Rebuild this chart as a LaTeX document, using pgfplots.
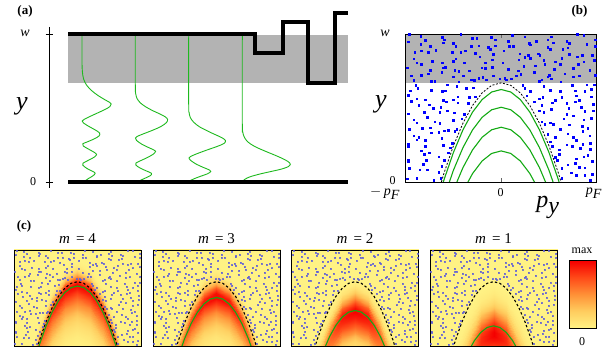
\documentclass[border=0pt]{standalone}
\usepackage{fontspec}
\setmainfont{Liberation Serif}
\usepackage{pgfplots}
\usepackage{pgfplotstable}
\pgfplotsset{compat=1.18}
\definecolor{bandgray}{RGB}{179,179,179}
\definecolor{wgreen}{RGB}{30,185,30}
\definecolor{lgreen}{RGB}{20,170,20}
\definecolor{dotblue}{RGB}{0,0,255}
\definecolor{cdot}{RGB}{95,95,215}
\newcommand\fs[1]{\fontsize{#1}{#1}\selectfont}
\pgfplotsset{colormap={heat}{rgb255(0cm)=(255,242,132); rgb255(1cm)=(255,205,95); rgb255(2cm)=(255,145,55); rgb255(3cm)=(255,75,25); rgb255(4cm)=(245,0,0)}}

% random-looking points outside the dashed parabola (x in -1..1, y in 0..1)
\pgfplotstableread{
x y
-0.985 0.022
-0.885 0.027
-0.705 0.012
-0.635 0.027
0.635 0.027
0.785 0.047
0.875 0.047
0.935 0.012
-0.965 0.092
-0.855 0.082
-0.775 0.082
-0.655 0.067
0.635 0.092
0.735 0.062
0.875 0.097
0.955 0.052
-0.975 0.142
-0.815 0.122
-0.785 0.147
-0.625 0.107
-0.595 0.147
0.585 0.147
0.695 0.117
0.775 0.127
0.815 0.102
0.955 0.142
-0.975 0.152
-0.805 0.187
-0.755 0.197
-0.655 0.172
-0.555 0.197
0.565 0.167
0.605 0.187
0.785 0.157
0.865 0.172
0.905 0.182
-0.975 0.242
-0.835 0.212
-0.795 0.242
-0.605 0.247
-0.535 0.232
0.535 0.242
0.605 0.217
0.745 0.242
0.825 0.227
0.935 0.222
-0.975 0.257
-0.885 0.287
-0.795 0.282
-0.625 0.297
-0.515 0.262
0.515 0.272
0.685 0.252
0.785 0.282
0.855 0.257
0.935 0.262
-0.915 0.312
-0.865 0.302
-0.735 0.332
-0.655 0.337
-0.595 0.347
-0.485 0.342
0.485 0.322
0.565 0.302
0.695 0.327
0.755 0.302
0.855 0.342
0.925 0.312
-0.965 0.357
-0.825 0.362
-0.745 0.367
-0.645 0.397
-0.555 0.352
-0.465 0.357
0.455 0.392
0.545 0.392
0.615 0.357
0.715 0.387
0.845 0.377
0.905 0.362
-0.915 0.422
-0.885 0.402
-0.775 0.437
-0.695 0.407
-0.505 0.417
-0.415 0.427
0.425 0.407
0.515 0.402
0.655 0.427
0.755 0.447
0.865 0.422
0.945 0.432
-0.975 0.462
-0.805 0.472
-0.715 0.497
-0.645 0.472
-0.565 0.482
-0.495 0.467
-0.385 0.457
0.395 0.482
0.445 0.472
0.525 0.492
0.685 0.457
0.705 0.497
0.875 0.477
0.965 0.482
-0.945 0.547
-0.865 0.517
-0.755 0.522
-0.635 0.507
-0.575 0.542
-0.455 0.537
-0.345 0.532
0.345 0.542
0.425 0.517
0.535 0.537
0.685 0.532
0.775 0.542
0.835 0.507
0.965 0.527
-0.975 0.587
-0.885 0.562
-0.795 0.557
-0.605 0.552
-0.505 0.557
-0.455 0.577
-0.335 0.572
-0.275 0.577
0.265 0.582
0.395 0.562
0.435 0.572
0.565 0.552
0.635 0.572
0.785 0.582
0.815 0.552
0.945 0.577
-0.955 0.617
-0.875 0.632
-0.735 0.622
-0.615 0.612
-0.585 0.617
-0.465 0.647
-0.365 0.632
-0.295 0.637
0.245 0.632
0.305 0.612
0.445 0.647
0.515 0.622
0.615 0.612
0.775 0.617
0.875 0.612
0.945 0.627
-0.915 0.687
-0.895 0.652
-0.735 0.682
-0.695 0.682
-0.565 0.657
-0.445 0.677
-0.315 0.692
-0.285 0.687
-0.155 0.692
-0.015 0.697
0.055 0.692
0.105 0.697
0.225 0.652
0.395 0.682
0.425 0.692
0.525 0.697
0.625 0.677
0.745 0.652
0.895 0.657
0.975 0.657
-0.945 0.717
-0.835 0.722
-0.765 0.732
-0.625 0.742
-0.505 0.712
-0.445 0.747
-0.395 0.717
-0.235 0.702
-0.195 0.707
-0.085 0.717
0.035 0.702
0.155 0.717
0.205 0.727
0.345 0.742
0.485 0.712
0.505 0.722
0.665 0.732
0.755 0.712
0.815 0.717
0.985 0.722
-0.985 0.772
-0.835 0.797
-0.745 0.757
-0.605 0.772
-0.585 0.777
-0.485 0.757
-0.335 0.752
-0.205 0.772
-0.165 0.767
-0.095 0.777
0.075 0.762
0.175 0.752
0.235 0.782
0.355 0.787
0.455 0.797
0.555 0.762
0.615 0.797
0.755 0.767
0.805 0.797
0.925 0.757
-0.915 0.832
-0.885 0.807
-0.725 0.817
-0.615 0.807
-0.505 0.817
-0.475 0.832
-0.385 0.807
-0.225 0.847
-0.165 0.807
-0.095 0.827
0.015 0.807
0.185 0.827
0.245 0.842
0.305 0.837
0.445 0.822
0.565 0.812
0.635 0.837
0.795 0.847
0.865 0.812
0.975 0.822
-0.905 0.877
-0.835 0.887
-0.765 0.877
-0.685 0.892
-0.515 0.877
-0.425 0.877
-0.375 0.887
-0.275 0.872
-0.115 0.897
-0.085 0.862
0.025 0.887
0.195 0.867
0.285 0.857
0.385 0.867
0.405 0.857
0.515 0.897
0.645 0.897
0.715 0.862
0.845 0.857
0.955 0.857
-0.975 0.947
-0.845 0.932
-0.745 0.917
-0.605 0.942
-0.505 0.937
-0.475 0.917
-0.315 0.917
-0.235 0.922
-0.135 0.912
-0.065 0.922
0.085 0.917
0.125 0.917
0.295 0.937
0.305 0.927
0.485 0.912
0.545 0.942
0.695 0.907
0.715 0.937
0.895 0.932
0.985 0.917
-0.965 0.997
-0.845 0.987
-0.795 0.957
-0.615 0.977
-0.595 0.962
-0.425 0.997
-0.305 0.972
-0.255 0.972
-0.105 0.977
-0.065 0.962
0.075 0.952
0.115 0.992
0.245 0.982
0.365 0.952
0.485 0.962
0.525 0.982
0.685 0.952
0.795 0.997
0.865 0.992
0.985 0.962
}\dotstab

\pgfplotstableread{
x y
-0.7 -0.163
-0.6 0.058
-0.5 0.245
-0.4 0.398
-0.3 0.517
-0.2 0.602
-0.1 0.653
0 0.67
0.1 0.653
0.2 0.602
0.3 0.517
0.4 0.398
0.5 0.245
0.6 0.058
0.7 -0.163
}\Pdash
\pgfplotstableread{
x y
-0.7 -0.208
-0.6 0.013
-0.5 0.2
-0.4 0.353
-0.3 0.472
-0.2 0.557
-0.1 0.608
0 0.625
0.1 0.608
0.2 0.557
0.3 0.472
0.4 0.353
0.5 0.2
0.6 0.013
0.7 -0.208
}\Pga
\pgfplotstableread{
x y
-0.6 -0.107
-0.5 0.08
-0.4 0.233
-0.3 0.352
-0.2 0.437
-0.1 0.488
0 0.505
0.1 0.488
0.2 0.437
0.3 0.352
0.4 0.233
0.5 0.08
0.6 -0.107
}\Pgb
\pgfplotstableread{
x y
-0.5 -0.055
-0.4 0.098
-0.3 0.217
-0.2 0.302
-0.1 0.353
0 0.37
0.1 0.353
0.2 0.302
0.3 0.217
0.4 0.098
0.5 -0.055
}\Pgc
\pgfplotstableread{
x y
-0.4 -0.062
-0.3 0.057
-0.2 0.142
-0.1 0.193
0 0.21
0.1 0.193
0.2 0.142
0.3 0.057
0.4 -0.062
}\Pgd

% intensity on a parabolic mesh: columns a,b,c,d = m=4,3,2,1
\pgfplotstableread{
x y a b c d
-1 -1.7 0 0 0 0
-0.8 -1.088 0 0 0 0
-0.6 -0.612 0 0 0 0
-0.4 -0.272 0.02 0.04 0.10 0.36
-0.2 -0.068 0.02 0.05 0.14 0.68
0 0 0.02 0.05 0.15 0.80
0.2 -0.068 0.02 0.05 0.14 0.68
0.4 -0.272 0.02 0.04 0.10 0.36
0.6 -0.612 0 0 0 0
0.8 -1.088 0 0 0 0
1 -1.7 0 0 0 0
-1 -1.65 0 0 0 0
-0.8 -1.038 0 0 0 0
-0.6 -0.562 0 0 0 0
-0.4 -0.222 0.03 0.05 0.14 0.41
-0.2 -0.018 0.03 0.07 0.20 0.78
0 0.05 0.03 0.07 0.22 0.92
0.2 -0.018 0.03 0.07 0.20 0.78
0.4 -0.222 0.03 0.05 0.14 0.41
0.6 -0.562 0 0 0 0
0.8 -1.038 0 0 0 0
1 -1.65 0 0 0 0
-1 -1.6 0 0 0 0
-0.8 -0.988 0 0 0 0
-0.6 -0.512 0 0 0 0
-0.4 -0.172 0.04 0.08 0.22 0.45
-0.2 0.032 0.05 0.10 0.31 0.85
0 0.1 0.05 0.10 0.34 1
0.2 0.032 0.05 0.10 0.31 0.85
0.4 -0.172 0.04 0.08 0.22 0.45
0.6 -0.512 0 0 0 0
0.8 -0.988 0 0 0 0
1 -1.6 0 0 0 0
-1 -1.55 0 0 0 0
-0.8 -0.938 0 0 0 0
-0.6 -0.462 0 0 0 0
-0.4 -0.122 0.07 0.12 0.33 0.45
-0.2 0.082 0.08 0.14 0.46 0.85
0 0.15 0.08 0.15 0.50 1
0.2 0.082 0.08 0.14 0.46 0.85
0.4 -0.122 0.07 0.12 0.33 0.45
0.6 -0.462 0 0 0 0
0.8 -0.938 0 0 0 0
1 -1.55 0 0 0 0
-1 -1.5 0 0 0 0
-0.8 -0.888 0 0 0 0
-0.6 -0.412 0.07 0.11 0.26 0.37
-0.4 -0.072 0.10 0.17 0.43 0.42
-0.2 0.132 0.12 0.21 0.61 0.79
0 0.2 0.12 0.22 0.66 0.93
0.2 0.132 0.12 0.21 0.61 0.79
0.4 -0.072 0.10 0.17 0.43 0.42
0.6 -0.412 0.07 0.11 0.26 0.37
0.8 -0.888 0 0 0 0
1 -1.5 0 0 0 0
-1 -1.45 0 0 0 0
-0.8 -0.838 0 0 0 0
-0.6 -0.362 0.11 0.15 0.32 0.32
-0.4 -0.022 0.14 0.23 0.52 0.36
-0.2 0.182 0.16 0.29 0.74 0.68
0 0.25 0.17 0.30 0.80 0.80
0.2 0.182 0.16 0.29 0.74 0.68
0.4 -0.022 0.14 0.23 0.52 0.36
0.6 -0.362 0.11 0.15 0.32 0.32
0.8 -0.838 0 0 0 0
1 -1.45 0 0 0 0
-1 -1.4 0 0 0 0
-0.8 -0.788 0 0 0 0
-0.6 -0.312 0.15 0.20 0.37 0.25
-0.4 0.028 0.20 0.31 0.60 0.28
-0.2 0.232 0.23 0.38 0.85 0.53
0 0.3 0.24 0.40 0.92 0.62
0.2 0.232 0.23 0.38 0.85 0.53
0.4 0.028 0.20 0.31 0.60 0.28
0.6 -0.312 0.15 0.20 0.37 0.25
0.8 -0.788 0 0 0 0
1 -1.4 0 0 0 0
-1 -1.35 0 0 0 0
-0.8 -0.738 0 0 0 0
-0.6 -0.262 0.20 0.26 0.40 0.18
-0.4 0.078 0.27 0.41 0.65 0.20
-0.2 0.282 0.31 0.49 0.92 0.38
0 0.35 0.32 0.52 1 0.45
0.2 0.282 0.31 0.49 0.92 0.38
0.4 0.078 0.27 0.41 0.65 0.20
0.6 -0.262 0.20 0.26 0.40 0.18
0.8 -0.738 0 0 0 0
1 -1.35 0 0 0 0
-1 -1.3 0 0 0 0
-0.8 -0.688 0 0 0 0
-0.6 -0.212 0.26 0.33 0.38 0.12
-0.4 0.128 0.36 0.51 0.62 0.14
-0.2 0.332 0.41 0.63 0.87 0.26
0 0.4 0.42 0.66 0.95 0.30
0.2 0.332 0.41 0.63 0.87 0.26
0.4 0.128 0.36 0.51 0.62 0.14
0.6 -0.212 0.26 0.33 0.38 0.12
0.8 -0.688 0 0 0 0
1 -1.3 0 0 0 0
-1 -1.25 0 0 0 0
-0.8 -0.638 0 0 0 0
-0.6 -0.162 0.33 0.41 0.30 0.07
-0.4 0.178 0.45 0.64 0.49 0.08
-0.2 0.382 0.51 0.78 0.69 0.15
0 0.45 0.53 0.82 0.75 0.18
0.2 0.382 0.51 0.78 0.69 0.15
0.4 0.178 0.45 0.64 0.49 0.08
0.6 -0.162 0.33 0.41 0.30 0.07
0.8 -0.638 0 0 0 0
1 -1.25 0 0 0 0
-1 -1.2 0 0 0 0
-0.8 -0.588 0 0 0 0
-0.6 -0.112 0.40 0.49 0.20 0.04
-0.4 0.228 0.55 0.76 0.33 0.05
-0.2 0.432 0.63 0.92 0.46 0.09
0 0.5 0.65 0.97 0.50 0.10
0.2 0.432 0.63 0.92 0.46 0.09
0.4 0.228 0.55 0.76 0.33 0.05
0.6 -0.112 0.40 0.49 0.20 0.04
0.8 -0.588 0 0 0 0
1 -1.2 0 0 0 0
-1 -1.15 0 0 0 0
-0.8 -0.538 0.35 0.38 0.10 0.02
-0.6 -0.062 0.48 0.48 0.11 0.02
-0.4 0.278 0.66 0.74 0.18 0.02
-0.2 0.482 0.76 0.90 0.26 0.04
0 0.55 0.78 0.95 0.28 0.05
0.2 0.482 0.76 0.90 0.26 0.04
0.4 0.278 0.66 0.74 0.18 0.02
0.6 -0.062 0.48 0.48 0.11 0.02
0.8 -0.538 0.35 0.38 0.10 0.02
1 -1.15 0 0 0 0
-1 -1.1 0 0 0 0
-0.8 -0.488 0.41 0.28 0.04 0.01
-0.6 -0.012 0.57 0.35 0.05 0.01
-0.4 0.328 0.78 0.55 0.08 0.01
-0.2 0.532 0.89 0.67 0.11 0.02
0 0.6 0.92 0.70 0.12 0.02
0.2 0.532 0.89 0.67 0.11 0.02
0.4 0.328 0.78 0.55 0.08 0.01
0.6 -0.012 0.57 0.35 0.05 0.01
0.8 -0.488 0.41 0.28 0.04 0.01
1 -1.1 0 0 0 0
-1 -1.05 0 0 0 0
-0.8 -0.438 0.45 0.16 0.01 0
-0.6 0.038 0.62 0.20 0.02 0
-0.4 0.378 0.85 0.31 0.03 0
-0.2 0.582 0.97 0.38 0.04 0
0 0.65 1 0.40 0.04 0
0.2 0.582 0.97 0.38 0.04 0
0.4 0.378 0.85 0.31 0.03 0
0.6 0.038 0.62 0.20 0.02 0
0.8 -0.438 0.45 0.16 0.01 0
1 -1.05 0 0 0 0
-1 -1 0 0 0 0
-0.8 -0.388 0.32 0.07 0 0
-0.6 0.088 0.43 0.09 0 0
-0.4 0.428 0.60 0.14 0 0
-0.2 0.632 0.68 0.17 0 0
0 0.7 0.70 0.18 0 0
0.2 0.632 0.68 0.17 0 0
0.4 0.428 0.60 0.14 0 0
0.6 0.088 0.43 0.09 0 0
0.8 -0.388 0.32 0.07 0 0
1 -1 0 0 0 0
-1 -0.95 0 0 0 0
-0.8 -0.338 0.16 0.02 0 0
-0.6 0.138 0.22 0.03 0 0
-0.4 0.478 0.30 0.05 0 0
-0.2 0.682 0.34 0.06 0 0
0 0.75 0.35 0.06 0 0
0.2 0.682 0.34 0.06 0 0
0.4 0.478 0.30 0.05 0 0
0.6 0.138 0.22 0.03 0 0
0.8 -0.338 0.16 0.02 0 0
1 -0.95 0 0 0 0
-1 -0.9 0 0 0 0
-0.8 -0.288 0.05 0 0 0
-0.6 0.188 0.07 0.01 0 0
-0.4 0.528 0.10 0.01 0 0
-0.2 0.732 0.12 0.01 0 0
0 0.8 0.12 0.01 0 0
0.2 0.732 0.12 0.01 0 0
0.4 0.528 0.10 0.01 0 0
0.6 0.188 0.07 0.01 0 0
0.8 -0.288 0.05 0 0 0
1 -0.9 0 0 0 0
-1 -0.85 0 0 0 0
-0.8 -0.238 0.01 0 0 0
-0.6 0.238 0.02 0 0 0
-0.4 0.578 0.03 0 0 0
-0.2 0.782 0.03 0 0 0
0 0.85 0.03 0 0 0
0.2 0.782 0.03 0 0 0
0.4 0.578 0.03 0 0 0
0.6 0.238 0.02 0 0 0
0.8 -0.238 0.01 0 0 0
1 -0.85 0 0 0 0
-1 -0.8 0 0 0 0
-0.8 -0.188 0 0 0 0
-0.6 0.288 0 0 0 0
-0.4 0.628 0 0 0 0
-0.2 0.832 0 0 0 0
0 0.9 0 0 0 0
0.2 0.832 0 0 0 0
0.4 0.628 0 0 0 0
0.6 0.288 0 0 0 0
0.8 -0.188 0 0 0 0
1 -0.8 0 0 0 0
-1 1 0 0 0 0
-0.8 1.612 0 0 0 0
-0.6 2.088 0 0 0 0
-0.4 2.428 0 0 0 0
-0.2 2.632 0 0 0 0
0 2.7 0 0 0 0
0.2 2.632 0 0 0 0
0.4 2.428 0 0 0 0
0.6 2.088 0 0 0 0
0.8 1.612 0 0 0 0
1 1 0 0 0 0
}\heat

\pgfplotsset{cpanel/.style={scale only axis, width=127pt, height=96pt, anchor=north west,
  xmin=-1, xmax=1, ymin=0, ymax=1, xtick=\empty, ytick=\empty, axis on top,
  axis line style={line width=0.8pt}, point meta min=0, point meta max=1}}

\begin{document}
\begin{tikzpicture}
\path[use as bounding box] (0pt,0pt) rectangle (613pt,353pt);

% ---------------- (a)
\begin{axis}[at={(49pt,326pt)}, anchor=north west, scale only axis, width=301pt, height=161pt,
  xmin=49, xmax=350, ymin=27, ymax=188, y dir=reverse,
  axis x line=none, axis y line=left, axis line style={-, line width=0.9pt},
  ytick={34,182}, yticklabels={,}, tick align=center, major tick length=7pt,
  tick style={line width=0.9pt, black}, clip=false]
\addplot[fill=bandgray, draw=none] coordinates {(68,35) (348,35) (348,83) (68,83)};
\addplot[wgreen, line width=0.9pt, smooth] coordinates {(82,35) (82,62) (82.4,72) (83.6,79) (86.5,85) (91.5,90.5) (98,95.5) (104.5,99.5) (109.5,102.3) (111.2,104) (110,106.5) (105,109.5) (97.5,113) (89.5,116.7) (84,119.5) (82.2,121) (83.5,123) (88.5,126.2) (95,129.8) (99.6,133) (99,136) (94,139) (87.5,141.8) (82.8,143.8) (83.3,146) (88,148.8) (94,152.2) (96.6,154.5) (94,157.3) (88,160.5) (83,163.2) (82.8,165.2) (87,168.5) (93,171.5) (95.2,173.3) (93,175.8) (88.5,178.5) (85,181)};
\addplot[wgreen, line width=0.9pt, smooth] coordinates {(135.3,35) (135.3,85) (135.6,93) (137,98.5) (140.5,103) (146,107) (153,110.8) (160,114) (165.5,117) (167.6,119.5) (166.5,122.5) (161,126.5) (152,130.5) (143,134) (137,136.5) (135.4,138) (136.6,140.5) (141.5,144) (148.5,147.5) (154,150) (155.6,151.3) (153.5,154) (147.5,157.5) (141,160.5) (136,163) (135.8,165) (140,168) (146.5,171) (151.5,173.3) (150.5,175.5) (145.5,178) (140,180.5)};
\addplot[wgreen, line width=0.9pt, smooth] coordinates {(188.7,35) (188.7,105) (189,112) (190.3,117.5) (193.5,122) (199,126.5) (206.5,130.5) (214.5,134.3) (221.5,137.5) (225.5,140.5) (224,143.5) (217,146.5) (207,150) (197.5,153.5) (190.5,156.5) (189,158) (190.8,160.5) (196,164) (203.5,167.5) (209.5,170) (210.8,171.5) (207.5,173.8) (200.5,176.3) (194,178.8) (190.5,180.5)};
\addplot[wgreen, line width=0.9pt, smooth] coordinates {(242.3,35) (242.3,125) (242.6,131) (243.8,136) (246.5,140.5) (251,144.3) (257.5,147.8) (265.5,151.3) (274,154.8) (282,158.3) (288,161.5) (290.3,164.2) (288,166.8) (281,169.2) (271,171.5) (260,174) (250,176.8) (245,179.2) (243,181)};
\addplot[black, line width=3.1pt, line join=miter] coordinates {(68,34) (255,34) (255,53) (283,53) (283,22) (308,22) (308,83) (335,83) (335,13) (348,13)};
\addplot[black, line width=3.1pt] coordinates {(68,182) (348,182)};
\end{axis}

% ---------------- (b)
\begin{axis}[at={(405.7pt,319pt)}, anchor=north west, scale only axis, width=191pt, height=148pt,
  xmin=-1, xmax=1, ymin=0, ymax=1, xtick={0}, xticklabels={}, ytick=\empty,
  tick align=inside, major tick length=4pt, tick style={line width=0.8pt, black!60},
  axis on top, axis line style={line width=0.8pt}]
\addplot[fill=bandgray, draw=none] coordinates {(-1,0.669) (1,0.669) (1,1) (-1,1)};
\addplot[only marks, mark=square*, mark size=0.8pt, color=dotblue] table {\dotstab};
\addplot[black, line width=0.8pt, dash pattern=on 2pt off 1.6pt] table {\Pdash};
\addplot[lgreen, line width=1.1pt] table {\Pga};
\addplot[lgreen, line width=1.1pt] table {\Pgb};
\addplot[lgreen, line width=1.1pt] table {\Pgc};
\addplot[lgreen, line width=1.1pt] table {\Pgd};
\end{axis}

% ---------------- (c)
\begin{axis}[cpanel, at={(14pt,103pt)}]
\addplot[surf, shader=interp, mesh/cols=11, mesh/rows=20, point meta=explicit] table[x=x, y=y, meta=a] {\heat};
\addplot[only marks, mark=square*, mark size=0.5pt, color=cdot, opacity=0.8] table {\dotstab};
\addplot[black, line width=1.1pt, dash pattern=on 2.4pt off 2.2pt] table {\Pdash};
\addplot[lgreen, line width=1.1pt] table {\Pga};
\end{axis}
\begin{axis}[cpanel, at={(153pt,103pt)}]
\addplot[surf, shader=interp, mesh/cols=11, mesh/rows=20, point meta=explicit] table[x=x, y=y, meta=b] {\heat};
\addplot[only marks, mark=square*, mark size=0.5pt, color=cdot, opacity=0.8] table {\dotstab};
\addplot[black, line width=1.1pt, dash pattern=on 2.4pt off 2.2pt] table {\Pdash};
\addplot[lgreen, line width=1.1pt] table {\Pgb};
\end{axis}
\begin{axis}[cpanel, at={(291.5pt,103pt)}]
\addplot[surf, shader=interp, mesh/cols=11, mesh/rows=20, point meta=explicit] table[x=x, y=y, meta=c] {\heat};
\addplot[only marks, mark=square*, mark size=0.5pt, color=cdot, opacity=0.8] table {\dotstab};
\addplot[black, line width=1.1pt, dash pattern=on 2.4pt off 2.2pt] table {\Pdash};
\addplot[lgreen, line width=1.1pt] table {\Pgc};
\end{axis}
\begin{axis}[cpanel, at={(430pt,103pt)}]
\addplot[surf, shader=interp, mesh/cols=11, mesh/rows=20, point meta=explicit] table[x=x, y=y, meta=d] {\heat};
\addplot[only marks, mark=square*, mark size=0.5pt, color=cdot, opacity=0.8] table {\dotstab};
\addplot[black, line width=1.1pt, dash pattern=on 2.4pt off 2.2pt] table {\Pdash};
\addplot[lgreen, line width=1.1pt] table {\Pgd};
\end{axis}
% colour bar
\begin{axis}[at={(569.3pt,92.3pt)}, anchor=north west, scale only axis, width=27.4pt, height=67.6pt,
  xmin=0, xmax=1, ymin=0, ymax=1, xtick=\empty, ytick=\empty, axis on top,
  axis line style={line width=0.8pt}, point meta min=0, point meta max=1]
\addplot[surf, shader=interp, mesh/cols=2, mesh/rows=2, point meta=explicit] table[row sep=\\, x=x, y=y, meta=c] {x y c\\0 0 0\\1 0 0\\0 1 1\\1 1 1\\};
\end{axis}

% ---------------- text
\node[font=\fs{13}\bfseries] at (25pt,342pt) {(a)};
\node[font=\fs{14}] at (25pt,320pt) {\textit{w}};
\node[font=\fs{12}] at (33pt,171pt) {0};
\node[font=\fs{26}] at (22pt,247pt) {\textit{y}};

\node[font=\fs{13}\bfseries] at (579.5pt,341.5pt) {(b)};
\node[font=\fs{14}] at (385pt,320pt) {\textit{w}};
\node[font=\fs{12}] at (392.5pt,172pt) {0};
\node[font=\fs{26}] at (381pt,249pt) {\textit{y}};
\node[font=\fs{14}] at (385pt,160pt) {$-\,\textit{p}_{\textit{F}}$};
\node[font=\fs{12}] at (500.7pt,160pt) {0};
\node[font=\fs{14}] at (594pt,160pt) {$\textit{p}_{\textit{F}}$};
\node[font=\fs{24}] at (548pt,146pt) {$\textit{p}_{\textit{y}}$};

\node[font=\fs{13}\bfseries] at (24pt,127pt) {(c)};
\node[font=\fs{15}, anchor=base] at (77.5pt,109pt) {\textit{m}\hspace{0.4em}= 4};
\node[font=\fs{15}, anchor=base] at (216.5pt,109pt) {\textit{m}\hspace{0.4em}= 3};
\node[font=\fs{15}, anchor=base] at (355pt,109pt) {\textit{m}\hspace{0.4em}= 2};
\node[font=\fs{15}, anchor=base] at (493.5pt,109pt) {\textit{m}\hspace{0.4em}= 1};
\node[font=\fs{12}] at (582pt,102pt) {max};
\node[font=\fs{12}] at (582pt,11pt) {0};
\end{tikzpicture}
\end{document}
